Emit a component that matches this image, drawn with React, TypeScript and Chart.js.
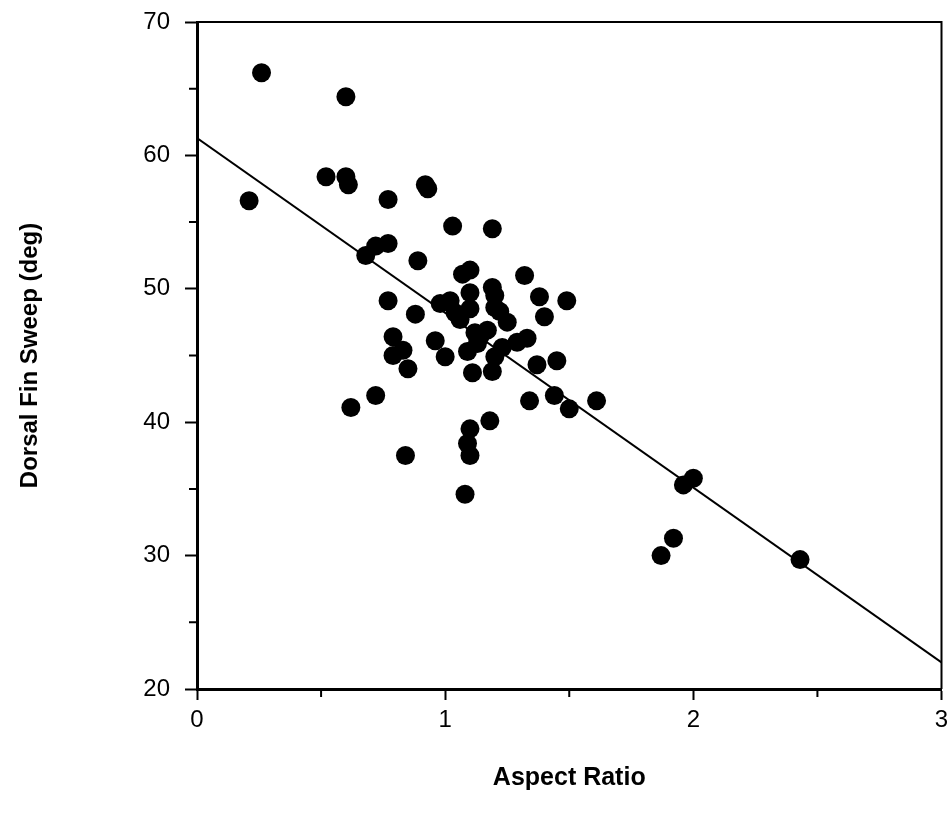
import React, { useEffect, useRef } from "react";
import { Chart, registerables } from "chart.js";

Chart.register(...registerables);

// Aspect ratio (x) and dorsal fin sweep in degrees (y) for each specimen
const aspectRatio = [
  0.21, 0.26, 0.52, 0.6, 0.61, 0.6, 0.62, 0.68, 0.72, 0.77,
  0.77, 0.72, 0.77, 0.79, 0.79, 0.83, 0.85, 0.84, 0.88, 0.89,
  0.92, 0.93, 0.96, 0.98, 1.0, 1.03, 1.02, 1.04, 1.06, 1.07,
  1.1, 1.1, 1.1, 1.12, 1.14, 1.13, 1.09, 1.11, 1.17, 1.19,
  1.2, 1.19, 1.2, 1.22, 1.25, 1.23, 1.2, 1.19, 1.29, 1.33,
  1.32, 1.38, 1.4, 1.37, 1.45, 1.49, 1.44, 1.34, 1.5, 1.61,
  1.18, 1.1, 1.09, 1.1, 1.08, 1.96, 2.0, 1.92, 1.87, 2.43,
];
const finSweep = [
  56.6, 66.2, 58.4, 58.4, 57.8, 64.4, 41.1, 52.5, 53.2, 53.4,
  56.7, 42.0, 49.1, 46.4, 45.0, 45.4, 44.0, 37.5, 48.1, 52.1,
  57.8, 57.5, 46.1, 48.9, 44.9, 54.7, 49.1, 48.2, 47.7, 51.1,
  51.4, 49.7, 48.5, 46.7, 46.4, 45.9, 45.3, 43.7, 46.9, 50.1,
  49.5, 54.5, 48.6, 48.3, 47.5, 45.6, 44.9, 43.8, 46.0, 46.3,
  51.0, 49.4, 47.9, 44.3, 44.6, 49.1, 42.0, 41.6, 41.0, 41.6,
  40.1, 39.5, 38.4, 37.5, 34.6, 35.3, 35.8, 31.3, 30.0, 29.7,
];

// Regression line end points
const fitX = [0, 3];
const fitY = [61.3, 22.0];

// Axis ticks
const xMajorTicks = [0, 1, 2, 3];
const xMinorTicks = [0.5, 1.5, 2.5];
const yMajorTicks = [20, 30, 40, 50, 60, 70];
const yMinorTicks = [25, 35, 45, 55, 65];

const xTitle = "Aspect Ratio";
const yTitle = "Dorsal Fin Sweep (deg)";

export default function App() {
  const ref = useRef<HTMLCanvasElement | null>(null);

  useEffect(() => {
    const canvas = ref.current;
    if (!canvas) return;

    const framePlugin = {
      id: "frameAndMinor",
      afterDraw(chart: any) {
        const { ctx, chartArea } = chart;
        const xs = chart.scales.x;
        const ys = chart.scales.y;
        ctx.save();
        ctx.strokeStyle = "#000";
        ctx.lineWidth = 2;
        ctx.beginPath();
        ctx.moveTo(chartArea.left, chartArea.top);
        ctx.lineTo(chartArea.right, chartArea.top);
        ctx.lineTo(chartArea.right, chartArea.bottom);
        ctx.stroke();
        ctx.beginPath();
        xMinorTicks.forEach((v) => {
          const px = xs.getPixelForValue(v);
          ctx.moveTo(px, chartArea.bottom);
          ctx.lineTo(px, chartArea.bottom + 8);
        });
        yMinorTicks.forEach((v) => {
          const py = ys.getPixelForValue(v);
          ctx.moveTo(chartArea.left, py);
          ctx.lineTo(chartArea.left - 8, py);
        });
        ctx.stroke();
        ctx.restore();
      },
    };

    const tickFont = { family: "'Liberation Sans', Arial, sans-serif", size: 24, weight: "normal" as const };
    const xTitleFont = { family: "'Liberation Sans', Arial, sans-serif", size: 25, weight: "bold" as const };
    const yTitleFont = { family: "'Liberation Sans', Arial, sans-serif", size: 24, weight: "bold" as const };

    const chart = new Chart(canvas, {
      type: "scatter",
      data: {
        datasets: [
          {
            type: "line",
            data: fitX.map((x, i) => ({ x, y: fitY[i] })),
            borderColor: "#000",
            borderWidth: 2,
            pointRadius: 0,
            fill: false,
            order: 2,
          } as any,
          {
            data: aspectRatio.map((x, i) => ({ x, y: finSweep[i] })),
            backgroundColor: "#000",
            borderColor: "#000",
            borderWidth: 0,
            pointRadius: 9.5,
            order: 1,
          },
        ],
      },
      options: {
        responsive: false,
        devicePixelRatio: 1,
        animation: false,
        events: [],
        layout: { padding: { top: 22, right: 5, left: 0, bottom: 0 } },
        plugins: {
          legend: { display: false },
          tooltip: { enabled: false },
        },
        scales: {
          x: {
            type: "linear",
            min: 0,
            max: 3,
            afterBuildTicks: (s: any) => {
              s.ticks = xMajorTicks.map((v) => ({ value: v }));
            },
            afterFit: (s: any) => {
              s.height = 132;
              s.paddingLeft = 0;
              s.paddingRight = 0;
            },
            ticks: {
              color: "#000",
              font: tickFont,
              padding: 6,
              maxRotation: 0,
              autoSkip: false,
              callback: (v: any) => String(v),
            },
            grid: {
              drawOnChartArea: false,
              drawTicks: true,
              tickLength: 11,
              tickColor: "#000",
              tickWidth: 2,
            },
            border: { display: true, color: "#000", width: 3 },
            title: {
              display: true,
              text: xTitle,
              color: "#000",
              font: xTitleFont,
              padding: { top: 0, bottom: 28 },
            },
          },
          y: {
            type: "linear",
            min: 20,
            max: 70,
            afterBuildTicks: (s: any) => {
              s.ticks = yMajorTicks.map((v) => ({ value: v }));
            },
            afterFit: (s: any) => {
              s.width = 197;
              s.paddingTop = 0;
              s.paddingBottom = 0;
            },
            ticks: {
              color: "#000",
              font: tickFont,
              padding: 15,
              autoSkip: false,
              callback: (v: any) => String(v),
            },
            grid: {
              drawOnChartArea: false,
              drawTicks: true,
              tickLength: 12,
              tickColor: "#000",
              tickWidth: 2,
            },
            border: { display: true, color: "#000", width: 3 },
            title: {
              display: true,
              text: yTitle,
              color: "#000",
              font: yTitleFont,
              padding: { top: 16, bottom: 0 },
            },
          },
        },
      },
      plugins: [framePlugin],
    });

    return () => chart.destroy();
  }, []);

  return (
    <div style={{ position: "absolute", left: 0, top: 0, width: 951, height: 821, background: "#fff" }}>
      <canvas ref={ref} width={951} height={821} style={{ display: "block", width: 951, height: 821 }} />
    </div>
  );
}
